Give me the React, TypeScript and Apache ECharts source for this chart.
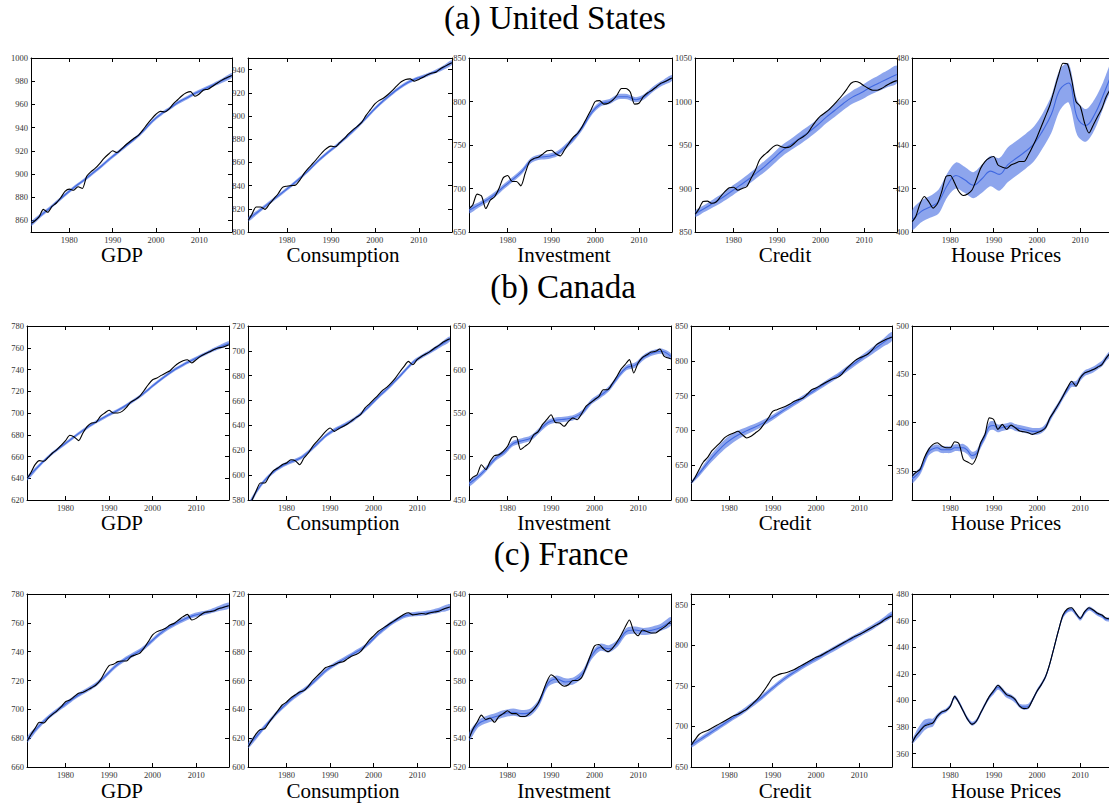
import React, { useEffect, useRef } from "react";
import * as echarts from "echarts";

// ---------------------------------------------------------------------------
// Labels
// ---------------------------------------------------------------------------
const ROW_TITLES = ["(a) United States", "(b) Canada", "(c) France"];
const VARIABLES = ["GDP", "Consumption", "Investment", "Credit", "House Prices"];
const X_TICKS = [1980, 1990, 2000, 2010];
const X_MIN = 1971.15;
const X_MAX = 2017.55;

// Observation dates: yearly for the data, every two years for the model fit
const ANNUAL_YEARS = [
  1971.2, 1972, 1973, 1974, 1975, 1976, 1977, 1978, 1979, 1980, 1981, 1982, 1983, 1984, 1985, 1986,
  1987, 1988, 1989, 1990, 1991, 1992, 1993, 1994, 1995, 1996, 1997, 1998, 1999, 2000, 2001, 2002,
  2003, 2004, 2005, 2006, 2007, 2008, 2009, 2010, 2011, 2012, 2013, 2014, 2015, 2016, 2017.5,
];
const BIENNIAL_YEARS = [
  1971.2, 1973.3, 1975.3, 1977.3, 1979.3, 1981.3, 1983.3, 1985.3, 1987.3, 1989.3, 1991.3, 1993.3,
  1995.3, 1997.3, 1999.3, 2001.3, 2003.3, 2005.3, 2007.3, 2009.3, 2011.3, 2013.3, 2015.3, 2017.5,
];

// ---------------------------------------------------------------------------
// United States
// ---------------------------------------------------------------------------
const US_GDP_DATA = [857.5, 859.5, 863, 869.5, 867, 872, 875, 879.5, 885, 887, 886, 889, 887.5, 898, 902, 905, 909, 913.5, 917, 920, 918.5, 921.5, 925, 928, 931, 933.5, 938, 943, 947.5, 951.5, 954, 953.5, 956, 960.5, 964, 967.5, 970, 971, 967, 969, 972.5, 973, 975.5, 978, 980.5, 982.5, 985];
const US_GDP_MODEL = [857, 864, 870, 876.5, 883, 889, 894.5, 900.5, 906.5, 913, 919, 925, 931, 938, 946, 952, 957, 962, 966, 970, 973.5, 977, 980.5, 985];
const US_GDP_BAND = [2, 1.8, 1.5, 1.5, 1.5, 1.5, 1.5, 1.5, 1.5, 1.5, 1.5, 1.5, 1.5, 1.5, 1.5, 1.5, 1.5, 1.5, 1.5, 1.5, 1.5, 1.5, 1.8, 2];

const US_CONS_DATA = [810, 815, 821.5, 821.5, 819.5, 824, 828.5, 833, 838.5, 839.5, 840, 840.5, 845, 851, 855.5, 859.5, 864, 868.5, 872, 874, 873.5, 877, 880.5, 884.5, 888, 891, 894.5, 900.5, 905.5, 910.5, 913.5, 915.5, 918.5, 922, 926, 929.5, 931.5, 932, 930, 931.5, 933.5, 935.5, 937, 938, 941, 943, 946];
const US_CONS_MODEL = [811, 817, 823, 829, 835, 841, 847.5, 854.5, 862, 868.5, 874.5, 881, 888, 895.5, 903.5, 911, 917.5, 923.5, 928.5, 932, 934.5, 937.5, 941, 946];
const US_CONS_BAND = [2, 1.8, 1.5, 1.5, 1.5, 1.5, 1.5, 1.5, 1.5, 1.5, 1.5, 1.5, 1.5, 1.5, 1.5, 1.5, 1.5, 1.5, 1.5, 1.5, 1.5, 1.5, 1.8, 2];

const US_INV_DATA = [677, 681, 693.5, 691.5, 677, 686.5, 690.5, 700, 712.5, 715, 708, 708, 703, 717.5, 731, 734.5, 736, 739.5, 743.5, 744, 740, 737.5, 744.5, 752, 759, 763.5, 771, 780.5, 790, 800, 801, 797, 798, 801.5, 807.5, 815, 815, 811, 797, 798, 805.5, 810, 813, 817, 821, 823, 827];
const US_INV_MODEL = [675, 681, 687, 694, 703, 711, 720, 732, 736, 737, 740, 748.5, 758.5, 772, 788, 797.5, 800, 805.5, 805.5, 802, 806, 814.5, 821, 827];
const US_INV_BAND = [3.5, 3, 3, 3, 3, 3, 3, 3, 3, 3, 3, 3, 3, 3, 3, 3, 3, 3, 3, 3, 3, 3, 3, 3.5];

const US_CREDIT_DATA = [870.5, 876, 885, 885.5, 883, 884.5, 890.5, 896.5, 901, 901.5, 898, 900, 902, 911.5, 921, 933, 938.5, 942.5, 947.5, 950, 948, 947, 948, 952, 956.5, 959.5, 963.5, 971, 978, 983.5, 987, 991, 996, 1001.5, 1007.5, 1014, 1021, 1023, 1021.5, 1018, 1015, 1013, 1013, 1015, 1018, 1021, 1024];
const US_CREDIT_MODEL = [871, 877, 883, 889, 896, 903, 910, 918, 926, 935, 944, 951, 958, 965, 973, 982, 990, 998, 1005, 1010, 1016, 1021, 1026, 1031];
const US_CREDIT_BAND = [3.5, 4, 4.5, 5, 5.5, 5.5, 6, 6, 6.5, 6.5, 6.5, 6.5, 7, 7, 7, 7, 7.5, 7.5, 7.5, 8, 8.5, 9, 9.5, 10];

const US_HOUSE_DATA = [404.8, 407, 413, 416.3, 414, 411, 413, 418.5, 425.5, 426, 422.5, 418.5, 416.8, 417.5, 419.3, 424, 429.3, 432.4, 434, 434.7, 430.8, 429.8, 429.3, 430.8, 431.6, 432.4, 432.4, 435.4, 439.3, 443.6, 448.5, 453.4, 458.4, 465.3, 472.2, 477.6, 477.3, 470, 460, 457.7, 450, 445.5, 449.2, 453.1, 456.9, 462.3, 467.6];
const US_HOUSE_MODEL = [405.5, 409.5, 411.5, 414, 421.5, 426, 424, 421.5, 424.5, 428, 426.5, 431, 434, 437, 440.5, 446.5, 454, 465.5, 468.5, 452.5, 449, 454, 463, 474];
const US_HOUSE_BAND = [4.5, 5, 5, 5.5, 5.5, 6, 6, 6, 6.5, 7, 7.5, 8, 8, 8, 8, 8, 8.5, 9.5, 9, 8, 7.5, 7, 6, 5.5];

// ---------------------------------------------------------------------------
// Canada
// ---------------------------------------------------------------------------
const CA_GDP_DATA = [640.2, 644.8, 652.5, 656.2, 655.6, 659.2, 663.2, 666.3, 670.3, 674.6, 679.5, 678, 674.6, 681.6, 687.7, 690.8, 691.4, 697, 700, 702.5, 700, 700, 701.5, 705.2, 710, 712.3, 715.3, 720.5, 726, 730.6, 732.2, 734.6, 736.8, 738.9, 742.9, 746, 748.1, 749, 746, 749, 752.1, 754.3, 756, 758.2, 759.8, 760.4, 762.8];
const CA_GDP_MODEL = [640, 649, 657, 664, 670, 676, 682, 687.5, 692.5, 697, 701, 705.5, 710.5, 716, 722.5, 729, 735, 740.5, 745, 749, 753, 757, 760.5, 764];
const CA_GDP_BAND = [2, 1.8, 1.5, 1.5, 1.5, 1.5, 1.5, 1.5, 1.5, 1.5, 1.5, 1.5, 1.5, 1.5, 1.5, 1.5, 1.5, 1.5, 1.5, 1.5, 1.5, 1.5, 1.8, 2];

const CA_CONS_DATA = [576, 579.5, 587, 593.7, 593.7, 599, 603.6, 605.7, 608.4, 609.8, 612.4, 611.6, 608.4, 613.8, 617.8, 623.2, 627.2, 631.2, 635.2, 637.9, 635.2, 637.4, 639.2, 641.1, 643.8, 646.5, 648.6, 654, 657.2, 660.7, 664.2, 668, 670.6, 674.1, 678.1, 683, 687.5, 691.5, 688.8, 692.9, 695.5, 697.4, 699.6, 702.3, 704.4, 707.1, 709.8];
const CA_CONS_MODEL = [575, 588, 597, 603.5, 608, 611, 614, 619.5, 626, 632.5, 637, 640.5, 644.5, 650, 656.5, 663.5, 670, 677, 684.5, 691.5, 696, 700, 704.5, 709.5];
const CA_CONS_BAND = [2, 1.8, 1.5, 1.5, 1.5, 1.5, 1.5, 1.5, 1.5, 1.5, 1.5, 1.5, 1.5, 1.5, 1.5, 1.5, 1.5, 1.5, 1.5, 1.5, 1.5, 1.5, 1.8, 2];

const CA_INV_DATA = [471.5, 476, 479, 490.6, 485, 494.4, 501, 502, 506, 511.7, 522, 523, 508, 511.7, 515.5, 525, 528.2, 536.6, 542.3, 548, 539, 538.5, 534.7, 540.4, 544.3, 542.3, 548.9, 557.7, 561.5, 565.3, 569.2, 576.8, 576.8, 583.3, 591, 599.8, 605.6, 611.3, 596, 607.5, 614, 617, 620, 620.9, 623.6, 615.1, 612.4];
const CA_INV_MODEL = [469, 477, 487, 498, 505, 515, 518, 521, 530, 539, 542, 543, 545, 551, 563, 570, 578, 591, 602, 605, 614, 619, 621, 615];
const CA_INV_BAND = [3.5, 3, 3, 3, 3, 3, 3, 3, 3, 3, 3, 3, 3, 3, 3, 3, 3, 3, 3, 3, 3, 3, 3, 3.5];

const CA_CREDIT_DATA = [624.4, 631.6, 643.6, 654.6, 661.3, 670.9, 677.1, 683.3, 690, 693.9, 696.3, 698.7, 693.9, 689.1, 691.5, 696.3, 701, 709.2, 717.8, 727.4, 729.8, 732.2, 734.6, 737.9, 741.8, 744.2, 746.6, 752.3, 758.5, 760.9, 764.3, 768.1, 771.5, 774.3, 776.2, 781, 788.7, 794.4, 800.2, 804, 806.4, 809.8, 816, 823.2, 827, 830.4, 833.7];
const CA_CREDIT_MODEL = [625, 640, 656, 670, 682, 691, 697.5, 703, 709, 716, 724, 732, 740, 748, 756, 764, 772, 780, 789, 798, 807, 816, 825, 835];
const CA_CREDIT_BAND = [2, 4, 5.5, 6.5, 7, 6.5, 5.5, 5, 4.5, 4, 3.5, 3.5, 3.5, 3.5, 3.5, 3.5, 3.5, 3.5, 4, 4, 4.5, 5, 5.5, 6.5];

const CA_HOUSE_DATA = [344.8, 348.3, 351.7, 363.8, 372.4, 377.5, 379.2, 375.8, 374.1, 374.1, 380.3, 378.2, 362, 359.3, 356.9, 363.8, 379.2, 387.9, 405, 403.3, 393, 398.2, 393, 397.5, 394.7, 391.3, 390.6, 389.6, 387.9, 389.6, 391.3, 394.7, 405, 411.9, 419.5, 427.4, 436, 442.9, 437.7, 446.4, 451.5, 453.2, 455, 457.4, 460.1, 467, 475.6];
const CA_HOUSE_MODEL = [342, 345, 350, 360, 370, 373, 374, 372, 372, 372, 374, 374, 374, 371, 366, 368, 377, 386, 396, 397, 394, 395, 396, 397, 395, 394, 393, 392, 391, 391, 392, 396, 404, 412, 419, 427, 434, 440, 440, 446, 451, 453, 455, 458, 461, 467, 474];
const CA_HOUSE_BAND = [4.5, 4.5, 4, 4, 4, 3.5, 3.5, 3.5, 3.5, 3.5, 3.5, 3.5, 4, 4, 4, 3.5, 3.5, 4, 4.5, 4.5, 4, 3.5, 3.5, 3.5, 3.5, 3.5, 3.5, 3.5, 3.5, 3.5, 3, 3, 3, 3, 3, 3, 3, 3, 3, 3, 3, 3, 3, 3, 3, 3, 3];

// ---------------------------------------------------------------------------
// France
// ---------------------------------------------------------------------------
const FR_GDP_DATA = [678, 682.2, 686.8, 691, 690.5, 693.8, 696.5, 698.8, 701.8, 705.3, 706.5, 708.8, 711.1, 711.8, 713.4, 715, 716.9, 720.3, 725.7, 730.3, 731.2, 733.1, 733.5, 733.5, 736.5, 737.7, 738.8, 742.3, 746.9, 751.6, 753.9, 755, 756.2, 758.5, 759.7, 762, 764.3, 765.9, 762, 763.1, 765.4, 767.3, 767.7, 768.2, 769.6, 770.5, 771.9];
const FR_GDP_MODEL = [679, 686.5, 692.5, 697.5, 702, 706.5, 710.5, 714, 718, 723.5, 729.5, 734, 737.5, 741, 746, 751.5, 756, 759.5, 762.5, 765, 766.5, 768, 770, 772];
const FR_GDP_BAND = [2, 1.8, 1.5, 1.5, 1.5, 1.5, 1.5, 1.5, 1.5, 1.5, 1.5, 1.5, 1.5, 1.5, 1.5, 1.5, 1.5, 1.5, 1.5, 1.5, 1.5, 1.5, 1.8, 2];

const FR_CONS_DATA = [614, 618, 623, 626, 626.5, 631, 635, 639, 643, 645, 648, 650, 652, 653, 656, 660, 663, 666, 669, 670, 671, 672.5, 673, 675, 677, 678, 680, 684, 688, 691, 694, 696, 698, 700, 702, 704, 706, 707, 705.5, 706, 706.5, 706, 707, 707.5, 708, 709.5, 711];
const FR_CONS_MODEL = [615, 622, 629, 636, 642, 647.5, 652, 656.5, 662, 667.5, 671.5, 675, 678.5, 682, 687, 693, 698, 702, 705, 706, 706.5, 707.5, 709, 711];
const FR_CONS_BAND = [2, 1.8, 1.5, 1.5, 1.5, 1.5, 1.5, 1.5, 1.5, 1.5, 1.5, 1.5, 1.5, 1.5, 1.5, 1.5, 1.5, 1.5, 1.5, 1.5, 1.5, 1.5, 1.8, 2];

const FR_INV_DATA = [540, 546, 551, 556, 553, 554, 551, 555, 557, 559, 557, 557, 555, 555, 557, 560, 564, 571, 579, 584, 582, 578, 576, 577, 580, 580, 582, 589, 597, 604, 605, 602, 600, 602, 606, 611, 617, 622, 614, 611, 615, 614, 613, 613, 615, 617, 621];
const FR_INV_MODEL = [541, 550, 553, 555, 557, 558, 557, 558, 565, 578, 581, 579, 580, 585, 597, 603, 602, 606, 614, 615, 614, 615, 617, 621];
const FR_INV_BAND = [3, 2.5, 2.5, 2.5, 2.5, 2.5, 2.5, 2.5, 2.5, 2.5, 2.5, 2.5, 2.5, 2.5, 2.5, 2.5, 2.5, 2.5, 2.5, 2.5, 2.5, 2.5, 2.5, 3];

const FR_CREDIT_DATA = [677, 683, 690, 693, 695, 698, 701, 704, 707, 710, 713, 715, 718, 721, 726, 731, 737, 744, 752, 760, 763, 765, 766, 768, 770, 773, 776, 779, 782, 785, 787, 790, 793, 796, 799, 802, 805, 808, 811, 813, 816, 819, 822, 825, 828, 832, 836];
const FR_CREDIT_MODEL = [677, 684, 691, 698, 705, 712, 719, 727, 735, 744, 753, 761, 768, 775, 781, 787, 793, 799, 805, 811, 817, 823, 830, 838];
const FR_CREDIT_BAND = [3, 3, 3, 3, 3, 3, 3, 3, 3, 3, 3, 3, 3, 3, 3, 3, 3, 3, 3, 3, 3, 3, 3, 3.5];

const FR_HOUSE_DATA = [368.2, 373.2, 377, 380.7, 382, 383.2, 388.2, 391.4, 392.4, 395.7, 403.1, 398.2, 391.9, 385.7, 382, 384.4, 390.7, 396.9, 403.1, 407.4, 411.4, 408.1, 404.4, 403.1, 400.6, 395.7, 393.9, 394.4, 400.6, 406.9, 411.9, 418.1, 428.1, 440.5, 453, 464.2, 468.7, 469.7, 465.5, 461.7, 466.7, 469.7, 468, 465.5, 464.2, 461.7, 461.2];
const FR_HOUSE_MODEL = [369, 373, 377.5, 381.5, 383, 383.5, 388, 391, 392.5, 396, 402.5, 398.5, 392, 386, 382.5, 384.5, 390.5, 397, 402.5, 406.5, 410, 407.5, 404, 402.5, 400, 396, 395, 395.5, 400.5, 407, 412, 418, 428, 440.5, 453, 463.5, 467.5, 468.5, 465, 461.5, 466, 469, 467.5, 465, 463.5, 461, 461];
const FR_HOUSE_BAND = [1.5, 3, 4, 4, 3.5, 3, 2, 1.5, 1.5, 1.5, 1.5, 1.5, 1.5, 1.5, 1.5, 1.5, 1.5, 1.5, 1.5, 2, 2, 2, 2, 2, 2, 1.5, 2, 2, 1.5, 1.5, 1.5, 1.5, 1.5, 1.5, 1.5, 1.5, 1.5, 1.5, 1.5, 1.5, 1.5, 1.5, 1.5, 1.5, 1.5, 1.5, 1.5];

// ---------------------------------------------------------------------------
// Y axes: range and tick labels per panel (row-major)
// ---------------------------------------------------------------------------
const Y_RANGES = [
  [850, 1000], [800, 950], [650, 850], [850, 1050], [400, 480],
  [620, 780], [580, 720], [450, 650], [600, 850], [320, 500],
  [660, 780], [600, 720], [520, 640], [650, 863], [350, 480],
];
const Y_TICKS = [
  [860, 880, 900, 920, 940, 960, 980, 1000],
  [800, 820, 840, 860, 880, 900, 920, 940],
  [650, 700, 750, 800, 850],
  [850, 900, 950, 1000, 1050],
  [400, 420, 440, 460, 480],
  [620, 640, 660, 680, 700, 720, 740, 760, 780],
  [580, 600, 620, 640, 660, 680, 700, 720],
  [450, 500, 550, 600, 650],
  [600, 650, 700, 750, 800, 850],
  [350, 400, 450, 500],
  [660, 680, 700, 720, 740, 760, 780],
  [600, 620, 640, 660, 680, 700, 720],
  [520, 540, 560, 580, 600, 620, 640],
  [650, 700, 750, 800, 850],
  [360, 380, 400, 420, 440, 460, 480],
];

const PANELS = [
  { data: US_GDP_DATA, model: US_GDP_MODEL, band: US_GDP_BAND },
  { data: US_CONS_DATA, model: US_CONS_MODEL, band: US_CONS_BAND },
  { data: US_INV_DATA, model: US_INV_MODEL, band: US_INV_BAND },
  { data: US_CREDIT_DATA, model: US_CREDIT_MODEL, band: US_CREDIT_BAND },
  { data: US_HOUSE_DATA, model: US_HOUSE_MODEL, band: US_HOUSE_BAND },
  { data: CA_GDP_DATA, model: CA_GDP_MODEL, band: CA_GDP_BAND },
  { data: CA_CONS_DATA, model: CA_CONS_MODEL, band: CA_CONS_BAND },
  { data: CA_INV_DATA, model: CA_INV_MODEL, band: CA_INV_BAND },
  { data: CA_CREDIT_DATA, model: CA_CREDIT_MODEL, band: CA_CREDIT_BAND },
  { data: CA_HOUSE_DATA, model: CA_HOUSE_MODEL, band: CA_HOUSE_BAND },
  { data: FR_GDP_DATA, model: FR_GDP_MODEL, band: FR_GDP_BAND },
  { data: FR_CONS_DATA, model: FR_CONS_MODEL, band: FR_CONS_BAND },
  { data: FR_INV_DATA, model: FR_INV_MODEL, band: FR_INV_BAND },
  { data: FR_CREDIT_DATA, model: FR_CREDIT_MODEL, band: FR_CREDIT_BAND },
  { data: FR_HOUSE_DATA, model: FR_HOUSE_MODEL, band: FR_HOUSE_BAND },
];

// ---------------------------------------------------------------------------
// Layout and style
// ---------------------------------------------------------------------------
const CANVAS_WIDTH = 1124; // the last column runs past the right edge of the window
const CANVAS_HEIGHT = 803;
const ROW_TOP = [58, 326, 594];
const ROW_HEIGHT = [174, 174, 173];
const COL_EDGES = [
  [[31, 232], [248, 452], [469, 672], [695, 897], [912, 1113]],
  [[27, 229], [248, 450], [469, 671], [691, 892], [912, 1113]],
  [[27, 229], [248, 450], [469, 671], [691, 892], [912, 1113]],
];
const TITLE_X = [555, 563, 561];
const TITLE_Y = [18, 287, 554];
const NAME_X = [122, 343, 564, 785, 1006];
const NAME_Y = [255, 523, 791];

const SERIF = '"Liberation Serif", "Times New Roman", serif';
const MODEL_BLUE = "#4169e1";
const BAND_FILL = "rgba(65,105,225,0.6)";

function yearsFor(values: number[]) {
  return values.length === ANNUAL_YEARS.length ? ANNUAL_YEARS : BIENNIAL_YEARS;
}

function pairs(years: number[], values: number[]) {
  return values.map((v, k) => [years[k], v]);
}

function buildOption() {
  const grid: any[] = [];
  const xAxis: any[] = [];
  const yAxis: any[] = [];
  const series: any[] = [];
  const graphic: any[] = [];
  const n = PANELS.length;

  const tickLabel = { fontFamily: SERIF, fontSize: 8.5, color: "#333" };
  const frame = { show: true, onZero: false, lineStyle: { color: "#000", width: 1 } };

  PANELS.forEach((p, i) => {
    const row = Math.floor(i / 5);
    const col = i % 5;
    const [l, r] = COL_EDGES[row][col];
    grid.push({ left: l, top: ROW_TOP[row], width: r - l, height: ROW_HEIGHT[row] });
    const [ymin, ymax] = Y_RANGES[i];

    xAxis[i] = {
      type: "value", gridIndex: i, min: X_MIN, max: X_MAX, position: "bottom",
      axisLine: frame,
      axisTick: { show: true, inside: true, length: 4, customValues: X_TICKS, lineStyle: { color: "#000" } },
      axisLabel: { show: true, customValues: X_TICKS, margin: 3, formatter: (v: number) => String(v), ...tickLabel },
      splitLine: { show: false },
    };
    xAxis[n + i] = {
      type: "value", gridIndex: i, min: X_MIN, max: X_MAX, position: "top",
      axisLine: frame,
      axisTick: { show: true, inside: true, length: 4, customValues: X_TICKS, lineStyle: { color: "#000" } },
      axisLabel: { show: false },
      splitLine: { show: false },
    };
    yAxis[i] = {
      type: "value", gridIndex: i, min: ymin, max: ymax, position: "left",
      axisLine: frame,
      axisTick: { show: true, inside: true, length: 4, customValues: Y_TICKS[i], lineStyle: { color: "#000" } },
      axisLabel: { show: true, customValues: Y_TICKS[i], margin: 3, formatter: (v: number) => String(v), ...tickLabel },
      splitLine: { show: false },
    };
    yAxis[n + i] = {
      type: "value", gridIndex: i, min: ymin, max: ymax, position: "right",
      axisLine: frame,
      axisTick: { show: true, inside: true, length: 4, customValues: Y_TICKS[i], lineStyle: { color: "#000" } },
      axisLabel: { show: false },
      splitLine: { show: false },
    };

    const modelYears = yearsFor(p.model);
    const { model, band } = p;

    // Confidence band around the model fit
    series.push({
      type: "custom",
      xAxisIndex: i,
      yAxisIndex: i,
      z: 1,
      silent: true,
      data: [[modelYears[0], model[0]]],
      renderItem: (params: any, api: any) => {
        const upper = modelYears.map((x, k) => api.coord([x, model[k] + band[k]]));
        const lower = modelYears.map((x, k) => api.coord([x, model[k] - band[k]])).reverse();
        const cs = params.coordSys;
        return {
          type: "polygon",
          shape: { points: upper.concat(lower), smooth: 0.3 },
          style: { fill: BAND_FILL },
          clipPath: { type: "rect", shape: { x: cs.x, y: cs.y, width: cs.width, height: cs.height } },
        };
      },
    });

    // Model fit
    series.push({
      type: "line",
      xAxisIndex: i,
      yAxisIndex: i,
      z: 2,
      silent: true,
      data: pairs(modelYears, model),
      smooth: 0.4,
      symbol: "none",
      lineStyle: { color: MODEL_BLUE, width: 1.1 },
    });

    // Observed series
    series.push({
      type: "line",
      xAxisIndex: i,
      yAxisIndex: i,
      z: 3,
      silent: true,
      data: pairs(yearsFor(p.data), p.data),
      smooth: 0.25,
      symbol: "none",
      lineStyle: { color: "#000", width: 1.1 },
    });

    graphic.push({
      type: "text",
      x: NAME_X[col],
      y: NAME_Y[row],
      silent: true,
      style: {
        text: VARIABLES[col],
        fontFamily: SERIF,
        fontSize: 21,
        lineHeight: 16,
        fill: "#000",
        textAlign: "center",
        textVerticalAlign: "middle",
      },
    });
  });

  ROW_TITLES.forEach((t, r) => {
    graphic.push({
      type: "text",
      x: TITLE_X[r],
      y: TITLE_Y[r],
      silent: true,
      style: {
        text: t,
        fontFamily: SERIF,
        fontSize: 33,
        lineHeight: 24,
        fill: "#000",
        textAlign: "center",
        textVerticalAlign: "middle",
      },
    });
  });

  return {
    animation: false,
    backgroundColor: "#fff",
    grid,
    xAxis,
    yAxis,
    series,
    graphic,
  };
}

export default function App() {
  const ref = useRef<HTMLDivElement>(null);

  useEffect(() => {
    if (!ref.current) return;
    const chart = echarts.init(ref.current, null, { renderer: "svg" });
    chart.setOption(buildOption() as any);
    return () => chart.dispose();
  }, []);

  return (
    <div
      ref={ref}
      style={{
        position: "fixed",
        left: 0,
        top: 0,
        width: CANVAS_WIDTH,
        height: CANVAS_HEIGHT,
        background: "#fff",
      }}
    />
  );
}
